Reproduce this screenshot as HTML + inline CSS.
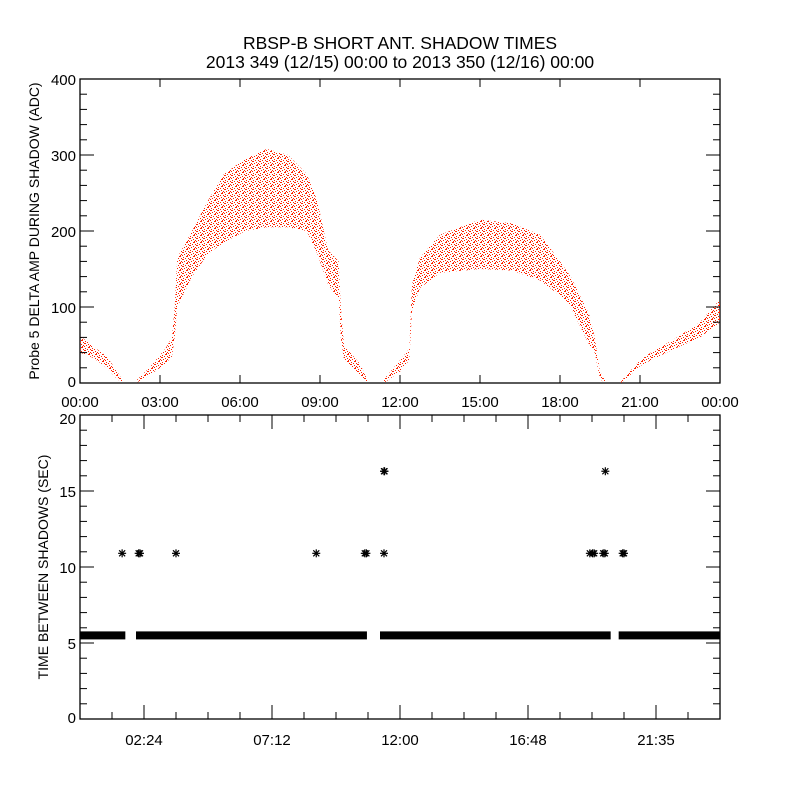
<!DOCTYPE html>
<html><head><meta charset="utf-8"><style>
body{margin:0;background:#fff}
svg text{font-family:"Liberation Sans",sans-serif;fill:#000}
</style></head><body>
<svg id="c" width="800" height="800" viewBox="0 0 800 800" xmlns="http://www.w3.org/2000/svg">
<defs>
<pattern id="dots" width="7" height="7" patternUnits="userSpaceOnUse">
<rect x="0" y="0" width="2" height="1" fill="#ff2200"/><rect x="4" y="1" width="1" height="1" fill="#ff2200"/><rect x="2" y="2" width="1" height="1" fill="#ff2200"/><rect x="6" y="2" width="1" height="1" fill="#ff2200"/><rect x="0" y="3" width="1" height="1" fill="#ff2200"/><rect x="4" y="4" width="2" height="1" fill="#ff2200"/><rect x="1" y="5" width="1" height="1" fill="#ff2200"/><rect x="3" y="6" width="1" height="1" fill="#ff2200"/><rect x="6" y="6" width="1" height="1" fill="#ff2200"/><rect x="5" y="3" width="1" height="1" fill="#ff2200"/>
</pattern>
</defs>
<rect width="800" height="800" fill="#fff"/>
<text x="400" y="49" font-size="17.5" text-anchor="middle">RBSP-B SHORT ANT. SHADOW TIMES</text>
<text x="400" y="68" font-size="17.5" text-anchor="middle">2013 349 (12/15) 00:00 to 2013 350 (12/16) 00:00</text>
<g id="topPanel"></g>
<g id="botPanel"></g>
</svg>
<script>
// Top panel data: segments of envelope (hours, low, high ADC)
const seg1Hours=[0,0.5,1.0,1.4,1.6];
const seg1Lo=[40,33,20,5,0];
const seg1Hi=[62,48,35,15,3];
const seg2Hours=[2.1,2.6,3.2,3.45,3.55,3.65,4.2,4.8,5.4,6.2,7.0,7.8,8.5,8.9,9.3,9.7,9.78,9.9,10.5,10.8];
const seg2Lo=[0,10,25,35,60,100,140,170,185,200,205,205,200,170,130,110,60,30,10,0];
const seg2Hi=[3,20,45,60,100,165,200,240,275,295,308,300,275,240,175,160,100,50,25,3];
const seg3Hours=[11.4,12.0,12.35,12.45,12.75,13.5,15.0,16.2,17.25,18.0,18.4,19.1,19.3,19.5,19.7];
const seg3Lo=[0,15,30,95,125,145,150,148,135,115,100,50,40,5,0];
const seg3Hi=[5,30,45,130,165,195,215,210,195,160,140,90,60,15,3];
const seg4Hours=[20.3,21.0,21.4,22.3,23.25,24];
const seg4Lo=[0,22,30,45,60,80];
const seg4Hi=[3,30,40,58,80,110];
const topYTicks=[0,100,200,300,400];
const topXTickLabels=["00:00","03:00","06:00","09:00","12:00","15:00","18:00","21:00","00:00"];
// Bottom panel data
const bandStarts=[0,2.1,11.25,20.2];
const bandEnds=[1.7,10.76,19.9,24];
const bandValues=[5.5,5.5,5.5,5.5];
const outlierHours=[1.58,2.2,2.25,3.6,8.86,10.68,10.74,11.4,11.4,11.42,19.12,19.22,19.28,19.62,19.68,19.7,20.35,20.4];
const outlierValues=[10.9,10.9,10.9,10.9,10.9,10.9,10.9,10.9,16.3,16.3,10.9,10.9,10.9,10.9,10.9,16.3,10.9,10.9];
const botYTicks=[0,5,10,15,20];
const botXTickLabels=["02:24","07:12","12:00","16:48","21:35"];

const NS="http://www.w3.org/2000/svg";
function mk(parent,tag,attrs){const e=document.createElementNS(NS,tag);for(const k in attrs)e.setAttribute(k,attrs[k]);parent.appendChild(e);return e;}
const L=80,R=720;
const x=h=>L+h/24*(R-L);
const yT=v=>383-v/400*304;
const yB=v=>719-v/20*304;
const topG=document.getElementById('topPanel'), botG=document.getElementById('botPanel');

const f1=mk(topG,'rect',{x:L,y:79,width:R-L,height:304,fill:'none',stroke:'#000','stroke-width':1.3});


[[seg1Hours,seg1Lo,seg1Hi],[seg2Hours,seg2Lo,seg2Hi],[seg3Hours,seg3Lo,seg3Hi],[seg4Hours,seg4Lo,seg4Hi]].forEach((s,i)=>{
  let d='';
  s[0].forEach((h,j)=>{d+=(j?'L':'M')+x(h).toFixed(1)+','+yT(s[2][j]).toFixed(1);});
  for(let j=s[0].length-1;j>=0;j--)d+='L'+x(s[0][j]).toFixed(1)+','+yT(s[1][j]).toFixed(1);
  const p=mk(topG,'path',{d:d+'Z',fill:'url(#dots)'});
  
  
});
for(let v=0;v<=400;v+=20){const maj=v%100===0;const len=maj?14:7;
  mk(topG,'line',{x1:L,x2:L+len,y1:yT(v),y2:yT(v),stroke:'#000'});
  mk(topG,'line',{x1:R,x2:R-len,y1:yT(v),y2:yT(v),stroke:'#000'});}
topYTicks.forEach(v=>{const t=mk(topG,'text',{x:L-4,y:yT(v)+6-(v===0?2:0),'font-size':15,'text-anchor':'end'});t.textContent=v;
  
  });
topXTickLabels.forEach((s,i)=>{const xx=x(i*3);
  mk(topG,'line',{x1:xx,x2:xx,y1:383,y2:375,stroke:'#000'});
  mk(topG,'line',{x1:xx,x2:xx,y1:79,y2:87,stroke:'#000'});
  const t=mk(topG,'text',{x:xx,y:407,'font-size':15,'text-anchor':'middle'});t.textContent=s;
  
  });
const yl1=mk(topG,'text',{x:0,y:0,'font-size':14,'text-anchor':'middle',transform:'translate(39,231) rotate(-90)'});
yl1.textContent='Probe 5 DELTA AMP DURING SHADOW (ADC)';



const f2=mk(botG,'rect',{x:L,y:415,width:R-L,height:304,fill:'none',stroke:'#000','stroke-width':1.3});


for(let v=0;v<=20;v+=1){const maj=v%5===0;const len=maj?14:7;
  mk(botG,'line',{x1:L,x2:L+len,y1:yB(v),y2:yB(v),stroke:'#000'});
  mk(botG,'line',{x1:R,x2:R-len,y1:yB(v),y2:yB(v),stroke:'#000'});}
botYTicks.forEach(v=>{const t=mk(botG,'text',{x:L-4,y:yB(v)+6-(v===0?2:0)+(v===20?3:0),'font-size':15,'text-anchor':'end'});t.textContent=v;
  
  });
for(let k=0;k<=20;k++){const xx=x(k*1.2);const maj=(k-2)%4===0;const len=maj?14:7;
  mk(botG,'line',{x1:xx,x2:xx,y1:719,y2:719-len,stroke:'#000'});
  mk(botG,'line',{x1:xx,x2:xx,y1:415,y2:415+len,stroke:'#000'});}
botXTickLabels.forEach((s,i)=>{const t=mk(botG,'text',{x:x(2.4+i*4.8),y:745,'font-size':15,'text-anchor':'middle'});t.textContent=s;
  
  });
const yl2=mk(botG,'text',{x:0,y:0,'font-size':14,'text-anchor':'middle',transform:'translate(48,567) rotate(-90)'});
yl2.textContent='TIME BETWEEN SHADOWS (SEC)';


bandStarts.forEach((s,i)=>{const r=mk(botG,'rect',{x:x(s),y:yB(bandValues[i])-4,width:x(bandEnds[i])-x(s),height:8,fill:'#000'});
  
  });
outlierHours.forEach((h,i)=>{const cx=x(h),cy=yB(outlierValues[i]);
  const g=mk(botG,'g',{stroke:'#000','stroke-width':1.2});
  
  
  mk(g,'line',{x1:cx-4,x2:cx+4,y1:cy,y2:cy});
  mk(g,'line',{x1:cx,x2:cx,y1:cy-4,y2:cy+4});
  mk(g,'line',{x1:cx-3,x2:cx+3,y1:cy-3,y2:cy+3});
  mk(g,'line',{x1:cx-3,x2:cx+3,y1:cy+3,y2:cy-3});});
</script>
</body></html>
